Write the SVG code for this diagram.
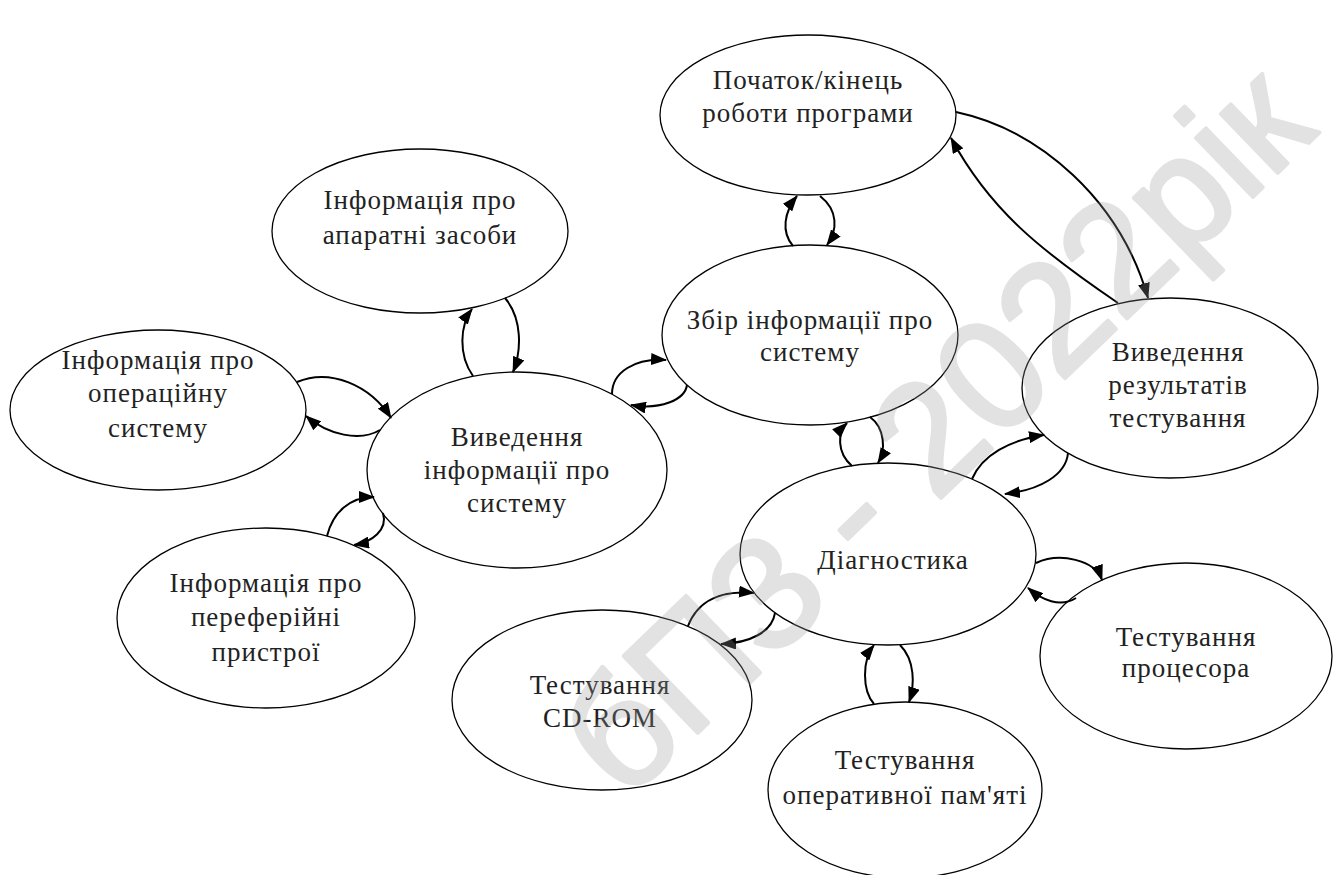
<svg xmlns="http://www.w3.org/2000/svg" width="1343" height="875" viewBox="0 0 1343 875">
<style>
.node ellipse{fill:#fff;stroke:#000;stroke-width:1.3}
.node text{font-family:"Liberation Serif","DejaVu Serif",serif;font-size:27px;letter-spacing:1px;fill:#222;text-anchor:middle}
.conn path{fill:none;stroke:#000;stroke-width:2;marker-end:url(#ah)}
.wm text{font-family:"Liberation Sans",Arial,sans-serif;font-size:155px;fill:#999;stroke:#999;stroke-width:4;stroke-linejoin:round;stroke-linecap:round;text-anchor:middle}
</style>
<defs>
<marker id="ah" markerUnits="userSpaceOnUse" markerWidth="16" markerHeight="12" viewBox="0 0 16 12" refX="15" refY="6" orient="auto">
<path d="M0,0 L16,6 L0,12 z" fill="#000"/>
</marker>
</defs>
<rect width="1343" height="875" fill="#fff"/>
<g id="n-start" class="node"><ellipse cx="808" cy="115" rx="148" ry="80"/><text x="808" y="89">Початок/кінець</text><text x="808" y="122">роботи програми</text></g>
<g id="n-hw" class="node"><ellipse cx="420" cy="231" rx="148" ry="82"/><text x="420" y="209">Інформація про</text><text x="420" y="244">апаратні засоби</text></g>
<g id="n-os" class="node"><ellipse cx="158" cy="410" rx="148" ry="80"/><text x="158" y="369">Інформація про</text><text x="158" y="402">операційну</text><text x="158" y="437">систему</text></g>
<g id="n-out" class="node"><ellipse cx="517" cy="470" rx="150" ry="98"/><text x="517" y="446">Виведення</text><text x="517" y="479">інформації про</text><text x="517" y="512">систему</text></g>
<g id="n-per" class="node"><ellipse cx="266" cy="618" rx="149" ry="90"/><text x="266" y="592">Інформація про</text><text x="266" y="626">переферійні</text><text x="266" y="661">пристрої</text></g>
<g id="n-col" class="node"><ellipse cx="810" cy="335" rx="148" ry="90"/><text x="810" y="329">Збір інформації про</text><text x="810" y="361">систему</text></g>
<g id="n-res" class="node"><ellipse cx="1170" cy="388" rx="148" ry="90"/><text x="1178" y="361">Виведення</text><text x="1178" y="394">результатів</text><text x="1178" y="427">тестування</text></g>
<g id="n-diag" class="node"><ellipse cx="888" cy="554" rx="148" ry="91"/><text x="893" y="569">Діагностика</text></g>
<g id="n-cd" class="node"><ellipse cx="602" cy="700" rx="150" ry="90"/><text x="600" y="694">Тестування</text><text x="600" y="727">CD-ROM</text></g>
<g id="n-cpu" class="node"><ellipse cx="1186" cy="656" rx="146" ry="93"/><text x="1186" y="646">Тестування</text><text x="1186" y="677">процесора</text></g>
<g id="n-ram" class="node"><ellipse cx="905" cy="790" rx="137" ry="88"/><text x="905" y="769">Тестування</text><text x="905" y="804">оперативної пам'яті</text></g>
<g id="connectors" class="conn">
<path d="M793,246 C781,232 784,212 797,196"/>
<path d="M820,196 C838,210 838,230 827,245"/>
<path d="M956,112 C1040,130 1120,200 1148,298"/>
<path d="M1118,303 C1040,250 990,210 951,138"/>
<path d="M473,376 C458,355 460,325 472,309"/>
<path d="M505,298 C522,318 522,350 513,372"/>
<path d="M297,382 C330,368 370,385 391,418"/>
<path d="M380,430 C360,442 328,435 306,416"/>
<path d="M327,536 C333,512 350,497 374,497"/>
<path d="M383,513 C388,530 372,542 354,545"/>
<path d="M612,394 C612,372 635,358 666,360"/>
<path d="M687,385 C685,400 660,410 631,405"/>
<path d="M852,466 C836,452 838,432 847,423"/>
<path d="M870,417 C885,428 886,450 878,463"/>
<path d="M972,479 C982,455 1010,440 1044,435"/>
<path d="M1068,453 C1066,475 1040,490 1005,494"/>
<path d="M688,626 C698,600 722,590 754,593"/>
<path d="M775,613 C772,632 750,643 721,644"/>
<path d="M1036,563 C1060,552 1095,560 1102,580"/>
<path d="M1076,598 C1060,608 1042,600 1028,588"/>
<path d="M874,704 C862,690 862,660 874,645"/>
<path d="M900,645 C915,660 915,685 909,702"/>
</g>
<g id="watermark" class="wm" opacity="0.28"><text transform="translate(972,468) rotate(-44)">бПЗ - 2022рік</text></g>
</svg>
